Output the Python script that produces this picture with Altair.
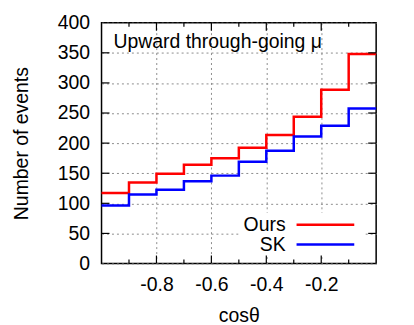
import altair as alt
import pandas as pd

# ---- data ----
bin_lo = [-1.0, -0.9, -0.8, -0.7, -0.6, -0.5, -0.4, -0.3, -0.2, -0.1]
x_end = 0.0
ours = [117, 134.5, 149, 164, 175, 192.5, 213.5, 244, 288.5, 348]
sk = [96.5, 114.5, 122.5, 136.5, 146, 169, 187.5, 211, 229, 257.5]
series = ["Ours", "SK"]
colors = ["#ff0000", "#0000ff"]
x_major = [-0.8, -0.6, -0.4, -0.2]
x_minor = [-0.9, -0.7, -0.5, -0.3, -0.1]
y_ticks = [50, 100, 150, 200, 250, 300, 350]
y_labels = [0, 50, 100, 150, 200, 250, 300, 350, 400]

rows = []
for name, vals in zip(series, [ours, sk]):
    for x, v in zip(bin_lo, vals):
        rows.append({"x": x, "y": v, "s": name})
    rows.append({"x": x_end, "y": vals[-1], "s": name})
df = pd.DataFrame(rows)

FONT = "Liberation Sans"
FS = 19.5
W, H = 276, 242

xs = alt.Scale(domain=[-1, 0], nice=False, zero=False)
ys = alt.Scale(domain=[0, 400], nice=False, zero=False)
cs = alt.Scale(domain=series, range=colors)

x_axis = alt.Axis(values=x_major, labelExpr="replace(format(datum.value, '.1f'), '\u2212', '-')",
                  ticks=False, domain=False, grid=True, gridDash=[2, 3], gridColor="#8c8c8c",
                  gridWidth=1, labelFont=FONT, labelFontSize=FS, labelColor="black",
                  labelPadding=12, title="cosθ", titleFont=FONT, titleFontSize=FS,
                  titleFontWeight="normal", titleColor="black", titlePadding=13)
y_axis = alt.Axis(values=y_labels, ticks=False, domain=False, grid=True, gridDash=[2, 3],
                  gridColor="#8c8c8c", gridWidth=1, labelFont=FONT, labelFontSize=FS,
                  labelColor="black", labelPadding=12, title="Number of events",
                  titleFont=FONT, titleFontSize=FS, titleFontWeight="normal",
                  titleColor="black", titlePadding=26)

lines = alt.Chart(df).mark_line(interpolate="step-after", strokeWidth=2.5).encode(
    x=alt.X("x:Q", scale=xs, axis=x_axis),
    y=alt.Y("y:Q", scale=ys, axis=y_axis),
    color=alt.Color("s:N", scale=cs, legend=None),
)

tx_major = pd.DataFrame({"t": x_major})
tx_minor = pd.DataFrame({"t": x_minor})
ty = pd.DataFrame({"t": y_ticks})

def xtick(d, y0, y1):
    return alt.Chart(d).mark_rule(color="black", strokeWidth=1.2).encode(
        x=alt.X("t:Q", scale=xs, axis=x_axis), y=alt.value(y0), y2=alt.value(y1))

def ytick(x0, x1):
    return alt.Chart(ty).mark_rule(color="black", strokeWidth=1.2).encode(
        y=alt.Y("t:Q", scale=ys, axis=y_axis), x=alt.value(x0), x2=alt.value(x1))

ticks = [
    xtick(tx_major, H, H - 8), xtick(tx_minor, H, H - 4),
    xtick(tx_major, 0, 8), xtick(tx_minor, 0, 4),
    ytick(0, 8), ytick(W, W - 8),
]

# white box behind the key
keybox = alt.Chart(pd.DataFrame({"k": [0]})).mark_rect(color="white").encode(
    x=alt.value(138), x2=alt.value(264), y=alt.value(191), y2=alt.value(234))

def key_item(name, color, yy):
    d = pd.DataFrame({"s": [name]})
    t = alt.Chart(d).mark_text(align="right", baseline="middle", font=FONT,
                               fontSize=FS, color="black").encode(
        text="s:N", x=alt.value(185), y=alt.value(yy))
    r = alt.Chart(d).mark_rule(strokeWidth=2.5, color=color).encode(
        x=alt.value(196), x2=alt.value(254), y=alt.value(yy))
    return [r, t]

key_layers = key_item(series[0], colors[0], 203) + key_item(series[1], colors[1], 223)

label = alt.Chart(pd.DataFrame({"k": ["Upward through-going μ"]})).mark_text(
    align="left", baseline="alphabetic", font=FONT, fontSize=FS, color="black").encode(
    text="k:N", x=alt.value(12), y=alt.value(25))

chart = alt.layer(keybox, lines, *ticks, *key_layers, label).properties(
    width=W, height=H,
    autosize=alt.AutoSizeParams(type="none"),
    padding={"left": 94, "top": 14, "right": 30, "bottom": 62},
).configure_view(stroke="black", strokeWidth=1.5)

chart.save("out.html", embed_options={"renderer": "svg", "actions": False})
